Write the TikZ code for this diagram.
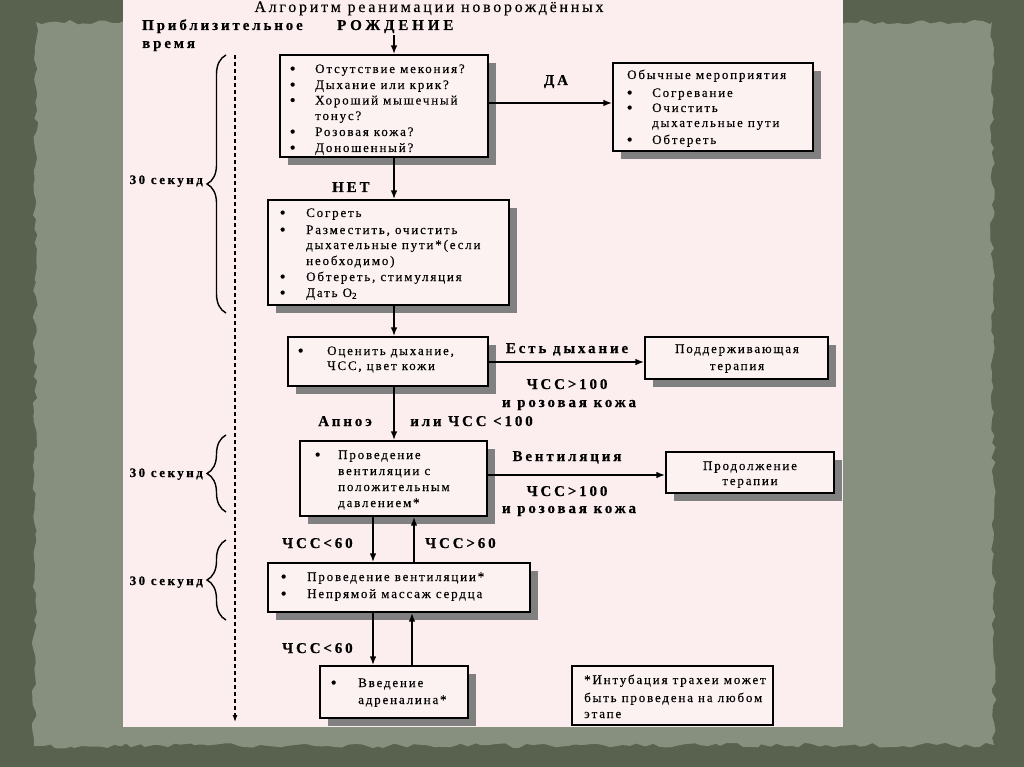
\documentclass[tikz,border=0pt]{standalone}
\usepackage{fontspec}
\setmainfont{Liberation Serif}
\newfontfamily\boxfont{Liberation Serif}[LetterSpace=14,FakeBold=0.25]
\newfontfamily\lblfont{Liberation Serif}[LetterSpace=19,FakeBold=0.4]
\newfontfamily\titlefont{Liberation Serif}[LetterSpace=17,FakeBold=0.2]
\usetikzlibrary{arrows.meta,shadows,decorations.pathreplacing,decorations.pathmorphing}
\definecolor{outerbg}{RGB}{88,98,78}
\definecolor{innerbg}{RGB}{135,143,127}
\definecolor{panel}{RGB}{252,238,238}
\definecolor{boxfill}{RGB}{253,242,242}
\definecolor{shadowc}{RGB}{128,128,128}
\newcommand\bu[1]{\makebox[#1pt][l]{\raisebox{-1.2pt}[0pt][0pt]{\fontsize{17}{17}\selectfont\textbullet}}}
\begin{document}
\begin{tikzpicture}[x=1pt,y=-1pt,
  box/.style={draw=black, line width=1.1pt, fill=boxfill, inner sep=0pt},
  sbox/.style={box, drop shadow={shadow xshift=8pt, shadow yshift=-8pt, fill=shadowc, opacity=1}},
  bt/.style={anchor=base west, inner sep=0pt, font=\boxfont\fontsize{13}{15}\selectfont},
  btc/.style={bt, anchor=base},
  lb/.style={anchor=base west, inner sep=0pt, font=\lblfont\bfseries\fontsize{15}{17}\selectfont},
  lbc/.style={lb, anchor=base},
  lbe/.style={lb, anchor=base east, font=\lblfont\bfseries\fontsize{13}{15}\selectfont},
  arr/.style={line width=1.8pt, -{Latex[length=9pt,width=6.5pt]}},
  brc/.style={decorate, decoration={brace, amplitude=19pt}, line width=1.4pt},
]
\useasboundingbox (0,0) rectangle (1024,767);
\fill[outerbg] (0,0) rectangle (1024,767);
\fill[innerbg, decorate, decoration={random steps, segment length=7pt, amplitude=2.5pt}]
  (36,22) -- (992,22) -- (994,745) -- (34,746) -- cycle;
\fill[panel] (123,0) rectangle (843,727);

% title and headers
\node[anchor=base, inner sep=0pt, font=\titlefont\fontsize{16}{18}\selectfont] (title) at (429,12) {Алгоритм реанимации новорождённых};
\node[lb] (pt1) at (142,30) {Приблизительное};
\node[lb] (pt2) at (142,48) {время};
\node[lb, font=\lblfont\addfontfeature{LetterSpace=26}\bfseries\fontsize{15}{17}\selectfont] (rozh) at (337,30) {РОЖДЕНИЕ};

% boxes
\node[sbox, minimum width=208pt, minimum height=102pt] (b1) at (384,106) {};
\node[sbox, minimum width=200pt, minimum height=88pt] (b2) at (713,107) {};
\node[sbox, minimum width=241pt, minimum height=105pt] (b3) at (388.5,252.5) {};
\node[sbox, minimum width=200pt, minimum height=49pt] (b4) at (388,361.5) {};
\node[sbox, minimum width=183pt, minimum height=42pt] (b5) at (736.5,358) {};
\node[sbox, minimum width=187pt, minimum height=75pt] (b6) at (393.5,478.5) {};
\node[sbox, minimum width=168pt, minimum height=41pt] (b7) at (750,472.5) {};
\node[sbox, minimum width=262pt, minimum height=49pt] (b8) at (399,587.5) {};
\node[sbox, minimum width=148pt, minimum height=52pt] (b9) at (394,692) {};
\node[box, minimum width=201pt, minimum height=59pt] (b10) at (672.5,695.5) {};

% box 1
\node[bt] (t11) at (289.5,73) {\bu{25.5}Отсутствие мекония?};
\node[bt] (t12) at (289.5,89) {\bu{25.5}Дыхание или крик?};
\node[bt] (t13) at (289.5,104.5) {\bu{25.5}Хороший мышечный};
\node[bt] (t14) at (315,120) {тонус?};
\node[bt] (t15) at (289.5,136) {\bu{25.5}Розовая кожа?};
\node[bt] (t16) at (289.5,152) {\bu{25.5}Доношенный?};
% box 2
\node[bt] (t21) at (627,79) {Обычные мероприятия};
\node[bt] (t22) at (626.5,97) {\bu{25.5}Согревание};
\node[bt] (t23) at (626.5,112) {\bu{25.5}Очистить};
\node[bt] (t24) at (652,127) {дыхательные пути};
\node[bt] (t25) at (626.5,144) {\bu{25.5}Обтереть};
% box 3
\node[bt] (t31) at (279.5,217) {\bu{26.5}Согреть};
\node[bt] (t32) at (279.5,234) {\bu{26.5}Разместить, очистить};
\node[bt] (t33) at (306,249) {дыхательные пути*(если};
\node[bt] (t34) at (306,265) {необходимо)};
\node[bt] (t35) at (279.5,281) {\bu{26.5}Обтереть, стимуляция};
\node[bt] (t36) at (279.5,297) {\bu{26.5}Дать O\textsubscript{2}};
% box 4
\node[bt] (t41) at (297.5,355) {\bu{29.5}Оценить дыхание,};
\node[bt] (t42) at (327,370) {ЧСС, цвет кожи};
% box 5
\node[btc] (t51) at (737,353) {Поддерживающая};
\node[btc] (t52) at (737,370) {терапия};
% box 6
\node[bt] (t61) at (314.5,459) {\bu{23.5}Проведение};
\node[bt] (t62) at (338,475) {вентиляции с};
\node[bt] (t63) at (338,491) {положительным};
\node[bt] (t64) at (338,507) {давлением*};
% box 7
\node[btc] (t71) at (750,470) {Продолжение};
\node[btc] (t72) at (750,485) {терапии};
% box 8
\node[bt] (t81) at (280.5,581) {\bu{26.5}Проведение вентиляции*};
\node[bt] (t82) at (280.5,598) {\bu{26.5}Непрямой массаж сердца};
% box 9
\node[bt] (t91) at (330.5,687) {\bu{27.5}Введение};
\node[bt] (t92) at (358,704) {адреналина*};
% box 10
\node[bt] (t101) at (584,684) {*Интубация трахеи может};
\node[bt] (t102) at (584,702) {быть проведена на любом};
\node[bt] (t103) at (584,718) {этапе};

% labels
\node[lbc] (lda) at (556,85) {ДА};
\node[lb] (lnet) at (332,192) {НЕТ};
\node[lbc] (lest) at (567,353) {Есть дыхание};
\node[lbc] (lc1) at (567,389) {ЧСС>100};
\node[lbc] (lr1) at (569,407) {и розовая кожа};
\node[lb] (lap) at (318,426) {Апноэ};
\node[lb] (lili) at (410,426) {или ЧСС <100};
\node[lbc] (lven) at (567,461) {Вентиляция};
\node[lbc] (lc2) at (567,496) {ЧСС>100};
\node[lbc] (lr2) at (569,513) {и розовая кожа};
\node[lb] (l60a) at (282,548) {ЧСС<60};
\node[lb] (l60b) at (425,548) {ЧСС>60};
\node[lb] (l60c) at (282,653) {ЧСС<60};
\node[lbe] (s1) at (203,184) {30 секунд};
\node[lbe] (s2) at (203,477) {30 секунд};
\node[lbe] (s3) at (203,585) {30 секунд};

% helper coordinates
\coordinate (ax) at (394,0);
\coordinate (dn) at (373,0);
\coordinate (up1) at (414,0);
\coordinate (up2) at (412,0);
\coordinate (ay1) at (0,103);
\coordinate (ay2) at (0,362);
\coordinate (ay3) at (0,475);

% connectors
\draw[arr] (rozh.south -| ax) ++(0,2) -- (b1.north -| ax);
\draw[arr] (b1.east |- ay1) -- (b2.west |- ay1);
\draw[arr] (b1.south -| ax) -- (b3.north -| ax);
\draw[arr] (b3.south -| ax) -- (b4.north -| ax);
\draw[arr] (b4.east |- ay2) -- (b5.west |- ay2);
\draw[arr] (b4.south -| ax) -- (b6.north -| ax);
\draw[arr] (b6.east |- ay3) -- (b7.west |- ay3);
\draw[arr] (b6.south -| dn) -- (b8.north -| dn);
\draw[arr] (b8.north -| up1) -- (b6.south -| up1);
\draw[arr] (b8.south -| dn) -- (b9.north -| dn);
\draw[arr] (b9.north -| up2) -- (b8.south -| up2);

% time axis
\coordinate (d1) at (235,55);
\coordinate (d2) at (235,722);
\draw[line width=1.2pt, dash pattern=on 4pt off 3pt, -{Latex[length=7pt,width=5pt]}] (d1) -- (d2);

% braces
\draw[brc] (226,313) -- (226,55);
\draw[brc] (226,512) -- (226,435);
\draw[brc] (226,620) -- (226,540);
\end{tikzpicture}
\end{document}
